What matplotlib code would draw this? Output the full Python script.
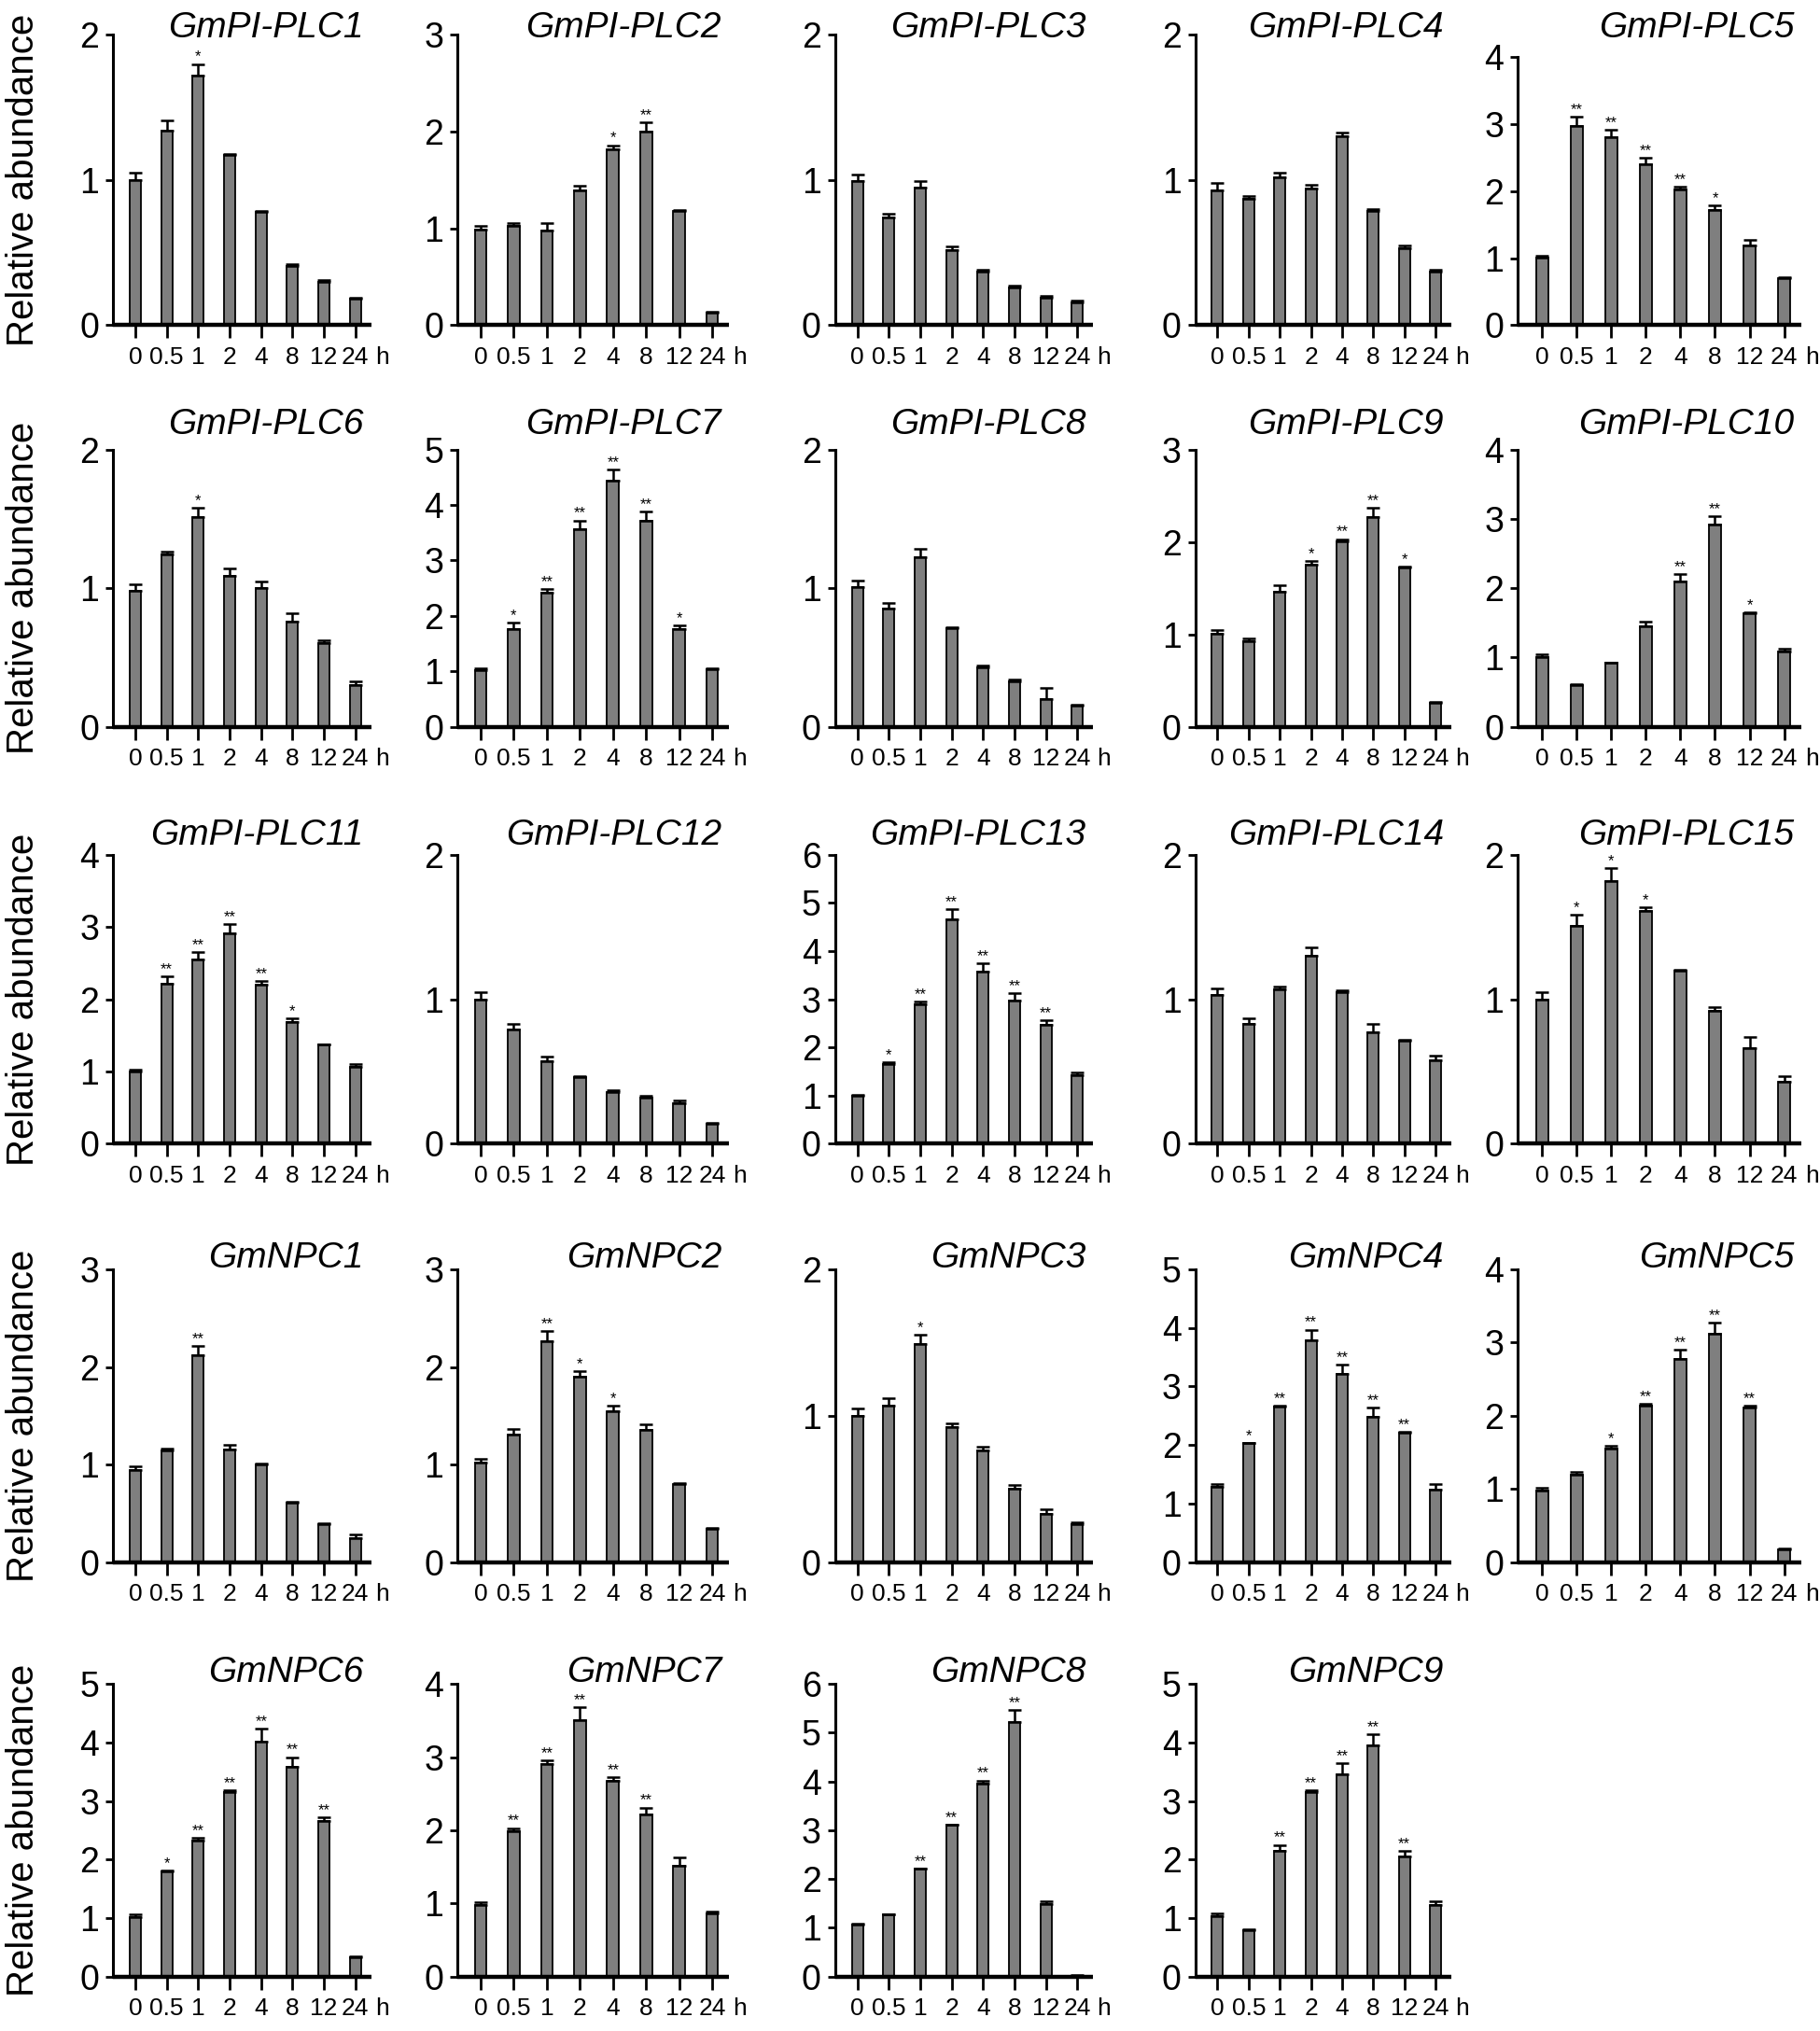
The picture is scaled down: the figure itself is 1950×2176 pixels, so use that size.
import matplotlib
matplotlib.use('Agg')
import matplotlib.pyplot as plt

plt.rcParams['font.family'] = ['Liberation Sans', 'DejaVu Sans']

# sampling times after treatment (h)
time_labels = ['0', '0.5', '1', '2', '4', '8', '12', '24']

genes = ['GmPI-PLC1', 'GmPI-PLC2', 'GmPI-PLC3', 'GmPI-PLC4', 'GmPI-PLC5',
         'GmPI-PLC6', 'GmPI-PLC7', 'GmPI-PLC8', 'GmPI-PLC9', 'GmPI-PLC10',
         'GmPI-PLC11', 'GmPI-PLC12', 'GmPI-PLC13', 'GmPI-PLC14', 'GmPI-PLC15',
         'GmNPC1', 'GmNPC2', 'GmNPC3', 'GmNPC4', 'GmNPC5',
         'GmNPC6', 'GmNPC7', 'GmNPC8', 'GmNPC9']

y_max = [2, 3, 2, 2, 4,
         2, 5, 2, 3, 4,
         4, 2, 6, 2, 2,
         3, 3, 2, 5, 4,
         5, 4, 6, 5]

means = [
    [1.00, 1.34, 1.72, 1.17, 0.78, 0.41, 0.30, 0.18],
    [0.99, 1.03, 0.98, 1.39, 1.82, 2.00, 1.18, 0.13],
    [0.99, 0.74, 0.95, 0.52, 0.37, 0.26, 0.19, 0.16],
    [0.93, 0.87, 1.02, 0.94, 1.30, 0.79, 0.53, 0.37],
    [1.01, 2.97, 2.80, 2.40, 2.02, 1.72, 1.19, 0.70],
    [0.98, 1.24, 1.51, 1.09, 1.00, 0.76, 0.60, 0.30],
    [1.02, 1.76, 2.42, 3.56, 4.43, 3.71, 1.76, 1.03],
    [1.01, 0.85, 1.22, 0.71, 0.43, 0.33, 0.20, 0.15],
    [1.01, 0.92, 1.46, 1.75, 2.01, 2.27, 1.72, 0.26],
    [1.01, 0.60, 0.92, 1.45, 2.10, 2.91, 1.64, 1.08],
    [1.00, 2.22, 2.55, 2.91, 2.20, 1.68, 1.37, 1.06],
    [1.00, 0.79, 0.57, 0.46, 0.36, 0.32, 0.28, 0.14],
    [1.00, 1.65, 2.89, 4.66, 3.58, 2.97, 2.46, 1.42],
    [1.03, 0.83, 1.07, 1.30, 1.05, 0.77, 0.71, 0.58],
    [1.00, 1.51, 1.82, 1.61, 1.20, 0.92, 0.66, 0.43],
    [0.94, 1.14, 2.12, 1.15, 1.00, 0.61, 0.39, 0.24],
    [1.02, 1.31, 2.26, 1.90, 1.55, 1.35, 0.80, 0.34],
    [1.00, 1.07, 1.49, 0.92, 0.76, 0.50, 0.33, 0.26],
    [1.29, 2.03, 2.66, 3.79, 3.22, 2.48, 2.21, 1.24],
    [0.98, 1.19, 1.55, 2.14, 2.77, 3.12, 2.11, 0.17],
    [1.02, 1.80, 2.32, 3.16, 4.02, 3.58, 2.65, 0.33],
    [0.98, 1.99, 2.90, 3.51, 2.67, 2.21, 1.51, 0.86],
    [1.06, 1.27, 2.21, 3.11, 3.96, 5.22, 1.49, 0.02],
    [1.03, 0.80, 2.14, 3.16, 3.45, 3.95, 2.05, 1.22],
]

errors = [
    [0.05, 0.07, 0.08, 0.01, 0.01, 0.01, 0.01, 0.01],
    [0.04, 0.03, 0.08, 0.05, 0.04, 0.10, 0.01, 0.01],
    [0.05, 0.03, 0.045, 0.02, 0.01, 0.01, 0.01, 0.01],
    [0.05, 0.02, 0.03, 0.03, 0.03, 0.01, 0.02, 0.01],
    [0.03, 0.14, 0.12, 0.10, 0.05, 0.07, 0.08, 0.02],
    [0.05, 0.025, 0.07, 0.05, 0.05, 0.06, 0.02, 0.03],
    [0.04, 0.11, 0.07, 0.16, 0.21, 0.17, 0.07, 0.03],
    [0.045, 0.04, 0.06, 0.01, 0.01, 0.01, 0.08, 0.01],
    [0.04, 0.04, 0.07, 0.04, 0.02, 0.10, 0.01, 0.01],
    [0.04, 0.01, 0.01, 0.06, 0.10, 0.13, 0.01, 0.05],
    [0.03, 0.10, 0.10, 0.13, 0.055, 0.06, 0.01, 0.04],
    [0.05, 0.04, 0.03, 0.01, 0.01, 0.01, 0.02, 0.005],
    [0.02, 0.045, 0.065, 0.21, 0.16, 0.16, 0.10, 0.065],
    [0.045, 0.04, 0.015, 0.06, 0.015, 0.06, 0.01, 0.03],
    [0.047, 0.073, 0.09, 0.026, 0.005, 0.026, 0.077, 0.038],
    [0.04, 0.02, 0.095, 0.05, 0.01, 0.01, 0.01, 0.04],
    [0.04, 0.05, 0.11, 0.06, 0.05, 0.06, 0.01, 0.01],
    [0.047, 0.05, 0.065, 0.03, 0.026, 0.028, 0.032, 0.01],
    [0.05, 0.01, 0.01, 0.18, 0.155, 0.155, 0.02, 0.095],
    [0.03, 0.04, 0.04, 0.02, 0.13, 0.15, 0.03, 0.01],
    [0.04, 0.01, 0.05, 0.02, 0.21, 0.17, 0.07, 0.01],
    [0.04, 0.04, 0.05, 0.17, 0.06, 0.10, 0.12, 0.03],
    [0.02, 0.01, 0.01, 0.01, 0.06, 0.24, 0.06, 0.01],
    [0.05, 0.01, 0.11, 0.02, 0.20, 0.19, 0.09, 0.06],
]

signif = [
    ['', '', '*', '', '', '', '', ''],
    ['', '', '', '', '*', '**', '', ''],
    ['', '', '', '', '', '', '', ''],
    ['', '', '', '', '', '', '', ''],
    ['', '**', '**', '**', '**', '*', '', ''],
    ['', '', '*', '', '', '', '', ''],
    ['', '*', '**', '**', '**', '**', '*', ''],
    ['', '', '', '', '', '', '', ''],
    ['', '', '', '*', '**', '**', '*', ''],
    ['', '', '', '', '**', '**', '*', ''],
    ['', '**', '**', '**', '**', '*', '', ''],
    ['', '', '', '', '', '', '', ''],
    ['', '*', '**', '**', '**', '**', '**', ''],
    ['', '', '', '', '', '', '', ''],
    ['', '*', '*', '*', '', '', '', ''],
    ['', '', '**', '', '', '', '', ''],
    ['', '', '**', '*', '*', '', '', ''],
    ['', '', '*', '', '', '', '', ''],
    ['', '*', '**', '**', '**', '**', '**', ''],
    ['', '', '*', '**', '**', '**', '**', ''],
    ['', '*', '**', '**', '**', '**', '**', ''],
    ['', '**', '**', '**', '**', '**', '', ''],
    ['', '', '**', '**', '**', '**', '', ''],
    ['', '', '**', '**', '**', '**', '**', ''],
]

# layout in figure fractions
col_left = [0.0623, 0.2514, 0.459, 0.657, 0.834]
col_width = [0.1416, 0.149, 0.1416, 0.1402, 0.1558]
row_bottom = [0.8399, 0.6422, 0.4369, 0.2309, 0.0268]
row_height = [0.1429, 0.1365, 0.1422, 0.1441, 0.1441]
title_shift = [-0.002, 0.0064, 0.004, 0.0, 0.0]

bar_gray = '#7f7f7f'

fig = plt.figure(figsize=(19.5, 21.76), dpi=100)

for i, gene in enumerate(genes):
    r, c = divmod(i, 5)
    h = row_height[r]
    if gene == 'GmPI-PLC5':
        h = 0.132
    ax = fig.add_axes([col_left[c], row_bottom[r], col_width[c], h])
    x = list(range(len(time_labels)))
    ax.bar(x, means[i], width=0.36, color=bar_gray, edgecolor='black',
           linewidth=1.3, zorder=2)
    ax.errorbar(x, means[i], yerr=[[0] * len(x), errors[i]], fmt='none',
                ecolor='black', elinewidth=1.8, capsize=5, capthick=1.8,
                zorder=3)
    for xi, m, e, s in zip(x, means[i], errors[i], signif[i]):
        if s:
            ax.annotate(s, xy=(xi, m + e), xytext=(0, 0),
                        textcoords='offset points', ha='center',
                        va='bottom', fontsize=12)

    ax.set_xlim(-0.7, 7.5)
    ax.set_ylim(0, y_max[i])
    ax.set_yticks(range(0, y_max[i] + 1))
    ax.set_xticks(x)
    ax.set_xticklabels(time_labels)

    ax.spines['right'].set_visible(False)
    ax.spines['top'].set_visible(False)
    ax.spines['left'].set_linewidth(2.2)
    ax.spines['bottom'].set_linewidth(3.2)
    ax.spines['bottom'].set_capstyle('butt')

    ax.tick_params(axis='y', length=6, width=2, pad=5, labelsize=27)
    ax.tick_params(axis='x', length=10, width=2, pad=6, labelsize=19)

    ax.annotate('h', xy=(1, 0), xycoords='axes fraction', xytext=(3, -16),
                textcoords='offset points', ha='left', va='top', fontsize=19)

    # gene name, italic, right aligned near the top of each panel
    top = row_bottom[r] + row_height[r] + title_shift[r]
    fig.text(col_left[c] + col_width[c] - 0.004, top + 0.001, gene,
             ha='right', va='baseline', fontsize=28, style='italic')

    if c == 0:
        fig.text(0.013, row_bottom[r] + row_height[r] / 2,
                 'Relative abundance', rotation=90, ha='center',
                 va='center', fontsize=29)

fig.savefig('out.png', dpi=100)
